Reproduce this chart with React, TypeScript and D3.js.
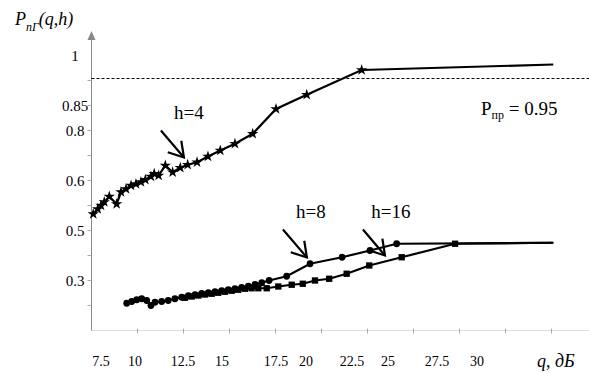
import * as d3 from "d3";

const W = 589;
const H = 374;

// x axis: q, dB (labels as printed)
const qTicks = [7.5, 10, 12.5, 15, 17.5, 20, 22.5, 25, 27.5, 30];
// y axis: printed labels and the tick slot each one sits on
const pTicks = [0.3, 0.5, 0.6, 0.8, 0.85, 1];
const pTickSlots = [2, 4, 6, 8, 9, 11];
const pThreshold = 0.95;
const pThresholdSlot = 10;

// h = 4 (stars)
const h4Q = [6.93, 7.26, 7.5, 7.74, 8.11, 8.65, 8.97, 9.34, 9.71, 10.05, 10.31, 10.54, 10.83, 11.0, 11.23, 11.58, 11.96, 12.36, 12.8, 13.4, 14.1, 14.89, 15.6, 16.42, 17.5, 20.04, 23.17, 34.77];
const h4P = [0.533, 0.543, 0.55, 0.557, 0.568, 0.553, 0.577, 0.583, 0.59, 0.593, 0.597, 0.603, 0.616, 0.627, 0.62, 0.66, 0.633, 0.651, 0.663, 0.673, 0.696, 0.72, 0.747, 0.787, 0.843, 0.893, 0.971, 0.982];

// h = 8 (circles)
const h8Q = [9.39, 9.76, 10.09, 10.35, 10.61, 10.83, 11.04, 11.39, 11.73, 12.08, 12.43, 12.84, 13.27, 13.7, 14.12, 14.55, 14.98, 15.29, 15.6, 15.91, 16.22, 16.53, 16.84, 17.18, 18.39, 20.22, 21.96, 23.75, 25.44, 34.77];
const h8P = [0.209, 0.216, 0.223, 0.227, 0.22, 0.2, 0.213, 0.216, 0.22, 0.227, 0.233, 0.239, 0.243, 0.248, 0.251, 0.255, 0.259, 0.263, 0.267, 0.272, 0.277, 0.284, 0.291, 0.3, 0.317, 0.367, 0.393, 0.42, 0.447, 0.451];

// h = 16 (squares)
const h16Q = [12.63, 13.06, 13.49, 13.91, 14.34, 14.76, 15.14, 15.45, 15.75, 16.06, 16.37, 16.68, 17.07, 17.69, 18.81, 19.73, 20.49, 21.26, 22.21, 23.7, 25.7, 28.63, 34.77];
const h16P = [0.231, 0.236, 0.24, 0.244, 0.247, 0.251, 0.255, 0.259, 0.263, 0.267, 0.269, 0.269, 0.269, 0.276, 0.283, 0.287, 0.3, 0.307, 0.327, 0.36, 0.393, 0.447, 0.451];

// arrow annotations: label, tail (q,P), tip (q,P)
const noteLabels = ["h=4", "h=8", "h=16"];
const noteTail = [[11.35, 0.8], [18.08, 0.502], [23.26, 0.502]];
const noteTip = [[12.56, 0.692], [20.05, 0.392], [24.79, 0.4]];

// layout (excel text boxes drift a bit, so the x scale follows the printed labels)
const qLabelX = [101, 135, 183, 222, 276, 306, 352, 388, 437, 477];
const axisX = 91.5;
const axisY = 330.5;
const topY = 55.5;
const serif = "Liberation Serif, DejaVu Serif, Times New Roman, serif";

export default function App() {
  const x = d3.scaleLinear().domain(qTicks).range(qLabelX);
  const slot = d3.scaleLinear().domain([0, 11]).range([axisY, topY]);
  const yDom = [...pTicks.slice(0, 5), pThreshold, pTicks[5]];
  const yRng = [...pTickSlots.slice(0, 5), pThresholdSlot, pTickSlots[5]].map(slot);
  const y = d3.scaleLinear().domain(yDom).range(yRng);
  const xTick = d3.scaleLinear().domain([0, 10]).range([axisX, 550.5]);

  const line = d3
    .line<[number, number]>()
    .x((d) => x(d[0]))
    .y((d) => y(d[1]));

  const series = [
    { q: h4Q, p: h4P, sym: d3.symbolStar, size: 40 },
    { q: h8Q, p: h8P, sym: d3.symbolCircle, size: 36 },
    { q: h16Q, p: h16P, sym: d3.symbolSquare, size: 40 },
  ];

  const arrowHead = (tx: number, ty: number, fx: number, fy: number) => {
    const a = Math.atan2(fy - ty, fx - tx);
    const len = 17;
    const da = 0.55;
    const p1 = [tx + len * Math.cos(a + da), ty + len * Math.sin(a + da)];
    const p2 = [tx + len * Math.cos(a - da), ty + len * Math.sin(a - da)];
    return `M${p1[0]},${p1[1]}L${tx},${ty}L${p2[0]},${p2[1]}`;
  };

  return (
    <svg
      width={W}
      height={H}
      fontFamily={serif}
      style={{ position: "absolute", left: 0, top: 0, background: "#fff" }}
    >
      {/* y axis title */}
      <text x={15} y={25} fontSize={18} fontStyle="italic">
        P
        <tspan fontSize={12} dy={6}>пГ</tspan>
        <tspan dy={-6}>(q,h)</tspan>
      </text>

      {/* x axis */}
      <line x1={axisX} x2={W} y1={axisY} y2={axisY} stroke="#ddd" />
      {d3.range(1, 11).map((i) => (
        <line key={i} x1={Math.round(xTick(i)) + 0.5} x2={Math.round(xTick(i)) + 0.5} y1={axisY - 2} y2={axisY + 3} stroke="#aaa" />
      ))}
      {qTicks.map((q) => (
        <text key={q} x={x(q)} y={366} fontSize={14} textAnchor="middle">
          {q}
        </text>
      ))}
      <text x={537} y={367} fontSize={18} fontStyle="italic">
        q, дБ
      </text>

      {/* y axis */}
      <line x1={axisX} x2={axisX} y1={axisY} y2={38} stroke="#888" />
      <path d={`M${axisX - 4},${40}L${axisX},${31}L${axisX + 4},${40}Z`} fill="#888" />
      {d3.range(1, 11).map((i) => (
        <line key={i} x1={axisX - 4} x2={axisX} y1={slot(i)} y2={slot(i)} stroke="#aaa" />
      ))}
      {pTicks.map((p) => (
        <text key={p} x={75} y={y(p) + 5} fontSize={15} textAnchor="middle">
          {p}
        </text>
      ))}

      {/* threshold */}
      <line
        x1={axisX}
        x2={W}
        y1={y(pThreshold) - 2}
        y2={y(pThreshold) - 2}
        stroke="#000"
        strokeDasharray="3,2"
      />
      <text x={481} y={115} fontSize={19}>
        P<tspan fontSize={12} dy={4}>пр</tspan>
        <tspan dy={-4}> = {pThreshold}</tspan>
      </text>

      {/* curves */}
      {series.map((s, si) => {
        const pts = s.q.map((q, i) => [q, s.p[i]] as [number, number]);
        const sym = d3.symbol().type(s.sym).size(s.size)();
        return (
          <g key={si}>
            <path d={line(pts) || ""} fill="none" stroke="#000" strokeWidth={2.2} />
            {pts.slice(0, -1).map((d, i) => (
              <path key={i} d={sym || ""} transform={`translate(${x(d[0])},${y(d[1])})`} fill="#000" />
            ))}
          </g>
        );
      })}

      {/* annotations */}
      {noteLabels.map((lab, i) => {
        const fx = x(noteTail[i][0]);
        const fy = y(noteTail[i][1]);
        const tx = x(noteTip[i][0]);
        const ty = y(noteTip[i][1]);
        return (
          <g key={lab}>
            <line x1={fx} y1={fy} x2={tx} y2={ty} stroke="#000" strokeWidth={2.2} />
            <path d={arrowHead(tx, ty, fx, fy)} fill="none" stroke="#000" strokeWidth={2.2} />
            <text x={fx + 28} y={fy - 12} fontSize={19} textAnchor="middle">
              {lab}
            </text>
          </g>
        );
      })}
    </svg>
  );
}
